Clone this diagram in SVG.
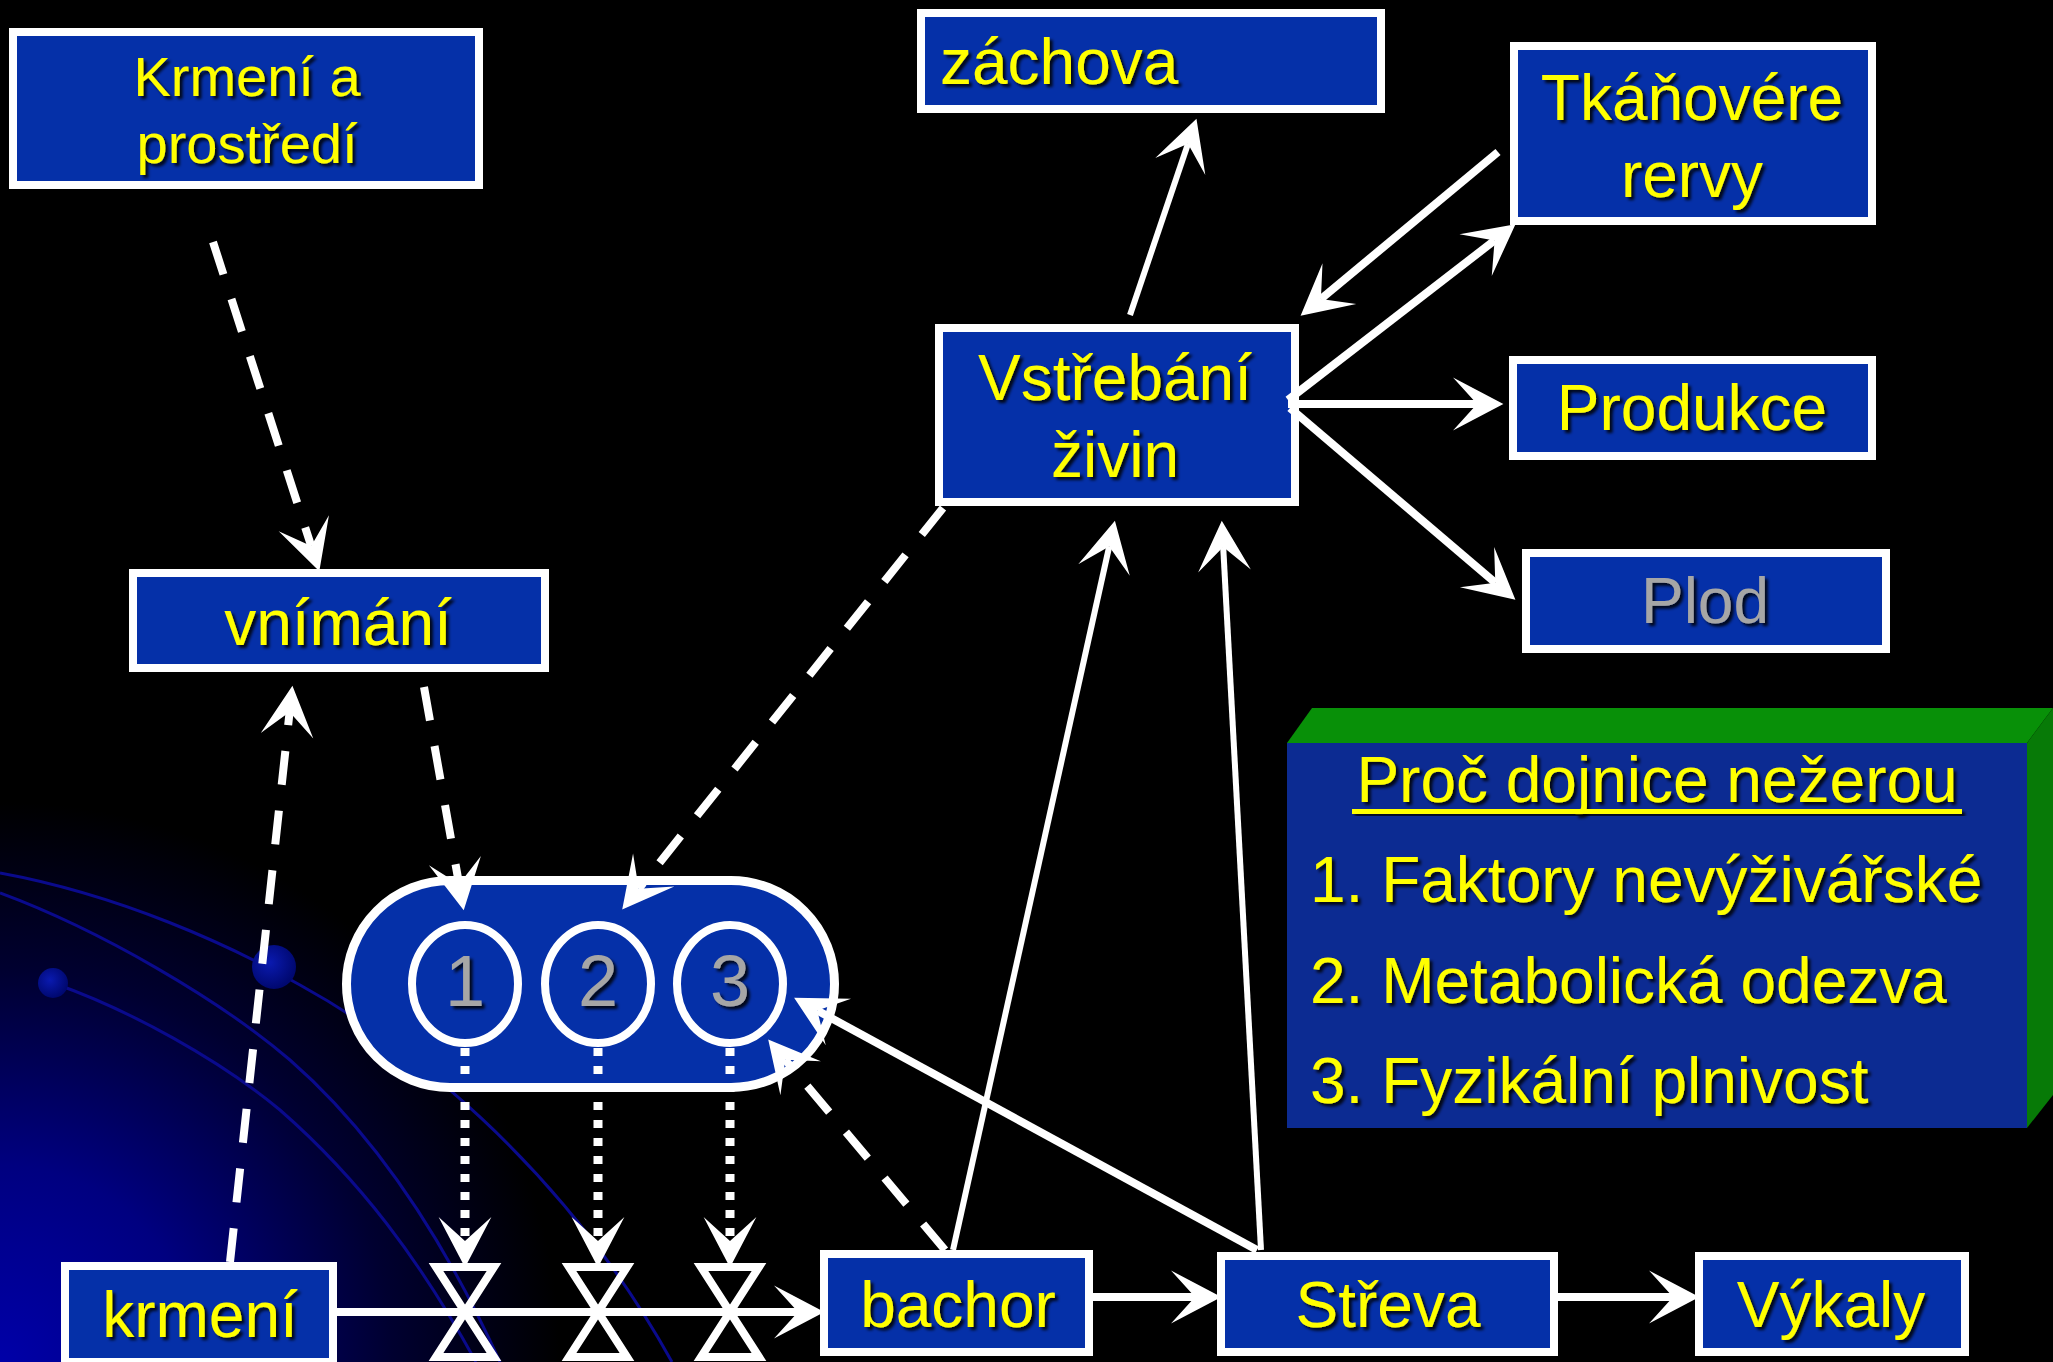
<svg xmlns="http://www.w3.org/2000/svg" width="2053" height="1362" viewBox="0 0 2053 1362">
<defs>
<radialGradient id="glow" gradientUnits="userSpaceOnUse" cx="0" cy="1362" r="560">
<stop offset="0" stop-color="#0000A8"/>
<stop offset="0.35" stop-color="#000080"/>
<stop offset="0.7" stop-color="#000030"/>
<stop offset="1" stop-color="#000000"/>
</radialGradient>
<radialGradient id="ball" cx="0.4" cy="0.4" r="0.6">
<stop offset="0" stop-color="#0A1AB0"/>
<stop offset="1" stop-color="#000870"/>
</radialGradient>
<filter id="sh" x="-10%" y="-10%" width="130%" height="140%">
<feDropShadow dx="3" dy="3" stdDeviation="1.5" flood-color="#000" flood-opacity="0.85"/>
</filter>
<marker id="ah" markerUnits="userSpaceOnUse" orient="auto" refX="0" refY="0" markerWidth="60" markerHeight="60" viewBox="-25 -25 50 50" overflow="visible">
<path d="M22,0 L-20,-22 L0,0 L-20,22 Z" fill="#fff"/>
</marker>
<style>
.box{fill:#0530A8;stroke:#fff;stroke-width:8}
.t{font-family:"Liberation Sans",Arial,sans-serif;font-size:64px;fill:#FFFF00;filter:url(#sh)}
.c{text-anchor:middle}
.g{fill:#A6A6A6}
.ln{fill:none;stroke:#fff;stroke-width:8;marker-end:url(#ah)}
.thin{stroke-width:6}
.dash{stroke-dasharray:34 26}
.dot{stroke-width:9;stroke-dasharray:8 10}
.arc{fill:none;stroke:#0A0A8C;stroke-width:3}
.valve{fill:none;stroke:#fff;stroke-width:8;stroke-linejoin:miter}
</style>
</defs>

<rect width="2053" height="1362" fill="#000"/>
<rect width="2053" height="1362" fill="url(#glow)"/>
<path class="arc" d="M0,873 C120,895 230,945 300,985 C400,1040 560,1160 672,1362"/>
<path class="arc" d="M0,893 C100,930 220,1000 290,1060 C370,1130 440,1230 500,1362"/>
<path class="arc" d="M53,983 C130,1010 220,1060 280,1110 C360,1180 420,1260 476,1362"/>
<circle cx="53" cy="983" r="15" fill="url(#ball)"/>
<circle cx="274" cy="967" r="22" fill="url(#ball)"/>

<g id="node-krmeni-prostredi">
<rect class="box" x="13" y="32" width="466" height="153"/>
<text class="t c" x="247" y="96" style="font-size:56px">Krmení a</text>
<text class="t c" x="247" y="163" style="font-size:56px">prostředí</text>
</g>

<g id="node-zachova">
<rect class="box" x="921" y="13" width="460" height="96"/>
<text class="t" x="940" y="84">záchova</text>
</g>

<g id="node-tkanove">
<rect class="box" x="1514" y="46" width="358" height="175"/>
<text class="t c" x="1692" y="120">Tkáňovére</text>
<text class="t c" x="1692" y="197">rervy</text>
</g>

<g id="node-vstrebani">
<rect class="box" x="939" y="328" width="356" height="174"/>
<text class="t c" x="1115" y="400">Vstřebání</text>
<text class="t c" x="1115" y="477">živin</text>
</g>

<g id="node-produkce">
<rect class="box" x="1513" y="360" width="359" height="96"/>
<text class="t c" x="1692" y="430">Produkce</text>
</g>

<g id="node-plod">
<rect class="box" x="1526" y="553" width="360" height="96"/>
<text class="t c g" x="1705" y="623">Plod</text>
</g>

<g id="node-vnimani">
<rect class="box" x="133" y="573" width="412" height="95"/>
<text class="t c" x="338" y="645">vnímání</text>
</g>

<g id="node-stomachs">
<rect class="box" x="346.5" y="880.5" width="488" height="207" rx="103.5" ry="103.5" style="stroke-width:9"/>
<ellipse cx="465" cy="984" rx="53" ry="59" fill="none" stroke="#fff" stroke-width="8"/>
<ellipse cx="598" cy="984" rx="53" ry="59" fill="none" stroke="#fff" stroke-width="8"/>
<ellipse cx="730" cy="984" rx="53" ry="59" fill="none" stroke="#fff" stroke-width="8"/>
<text class="t c g" x="465" y="1006" style="font-size:72px">1</text>
<text class="t c g" x="598" y="1006" style="font-size:72px">2</text>
<text class="t c g" x="730" y="1006" style="font-size:72px">3</text>
</g>

<g id="node-proc">
<polygon points="1287,743 1312,708 2053,708 2027,743" fill="#089008"/>
<polygon points="2027,743 2053,708 2053,1095 2027,1128" fill="#077A07"/>
<rect x="1287" y="743" width="740" height="385" fill="#0C2B92"/>
<text class="t c" x="1657" y="802">Proč dojnice nežerou</text>
<rect x="1352" y="809" width="610" height="5" fill="#FFFF00" filter="url(#sh)"/>
<text class="t" x="1310" y="902">1. Faktory nevýživářské</text>
<text class="t" x="1310" y="1003">2. Metabolická odezva</text>
<text class="t" x="1310" y="1103">3. Fyzikální plnivost</text>
</g>

<g id="node-krmeni">
<rect class="box" x="65" y="1266" width="268" height="96"/>
<text class="t c" x="200" y="1337">krmení</text>
</g>

<g id="node-bachor">
<rect class="box" x="824" y="1254" width="265" height="98"/>
<text class="t c" x="958" y="1327">bachor</text>
</g>

<g id="node-streva">
<rect class="box" x="1221" y="1256" width="333" height="96"/>
<text class="t c" x="1388" y="1327">Střeva</text>
</g>

<g id="node-vykaly">
<rect class="box" x="1699" y="1256" width="266" height="96"/>
<text class="t c" x="1831" y="1327">Výkaly</text>
</g>

<g id="valve1"><path class="valve" d="M436,1267 L494,1267 L465,1312 Z M465,1312 L436,1357 L494,1357 Z"/></g>
<g id="valve2"><path class="valve" d="M569,1267 L627,1267 L598,1312 Z M598,1312 L569,1357 L627,1357 Z"/></g>
<g id="valve3"><path class="valve" d="M701,1267 L759,1267 L730,1312 Z M730,1312 L701,1357 L759,1357 Z"/></g>

<g id="connectors">
<line class="ln dash" x1="213" y1="242" x2="311.2" y2="546.1"/>
<line class="ln dash" x1="424" y1="687" x2="459.1" y2="884.3"/>
<line class="ln dash" x1="230" y1="1262" x2="289.6" y2="711.9"/>
<line class="ln dash" x1="943" y1="508" x2="638.7" y2="888.8"/>
<line class="ln dash" x1="945" y1="1250" x2="785.2" y2="1059.8"/>
<line class="ln thin" x1="953" y1="1250" x2="1109.2" y2="546.5"/>
<line class="ln thin" x1="1261" y1="1250" x2="1223.2" y2="547"/>
<line class="ln" x1="1257" y1="1250" x2="817.3" y2="1010.5"/>
<line class="ln thin" x1="1130" y1="315" x2="1188" y2="143.8"/>
<line class="ln" x1="1498" y1="152" x2="1320.9" y2="299"/>
<line class="ln" x1="1288" y1="400" x2="1494.6" y2="240.4"/>
<line class="ln" x1="1288" y1="404" x2="1477" y2="404"/>
<line class="ln" x1="1290" y1="408" x2="1495.3" y2="582.7"/>
<line class="ln" x1="337" y1="1312" x2="798" y2="1312"/>
<line class="ln" x1="1093" y1="1297" x2="1195" y2="1297"/>
<line class="ln" x1="1558" y1="1297" x2="1673" y2="1297"/>
<line class="ln dot" x1="465" y1="1048" x2="465" y2="1241"/>
<line class="ln dot" x1="598" y1="1048" x2="598" y2="1241"/>
<line class="ln dot" x1="730" y1="1048" x2="730" y2="1241"/>
</g>
</svg>
